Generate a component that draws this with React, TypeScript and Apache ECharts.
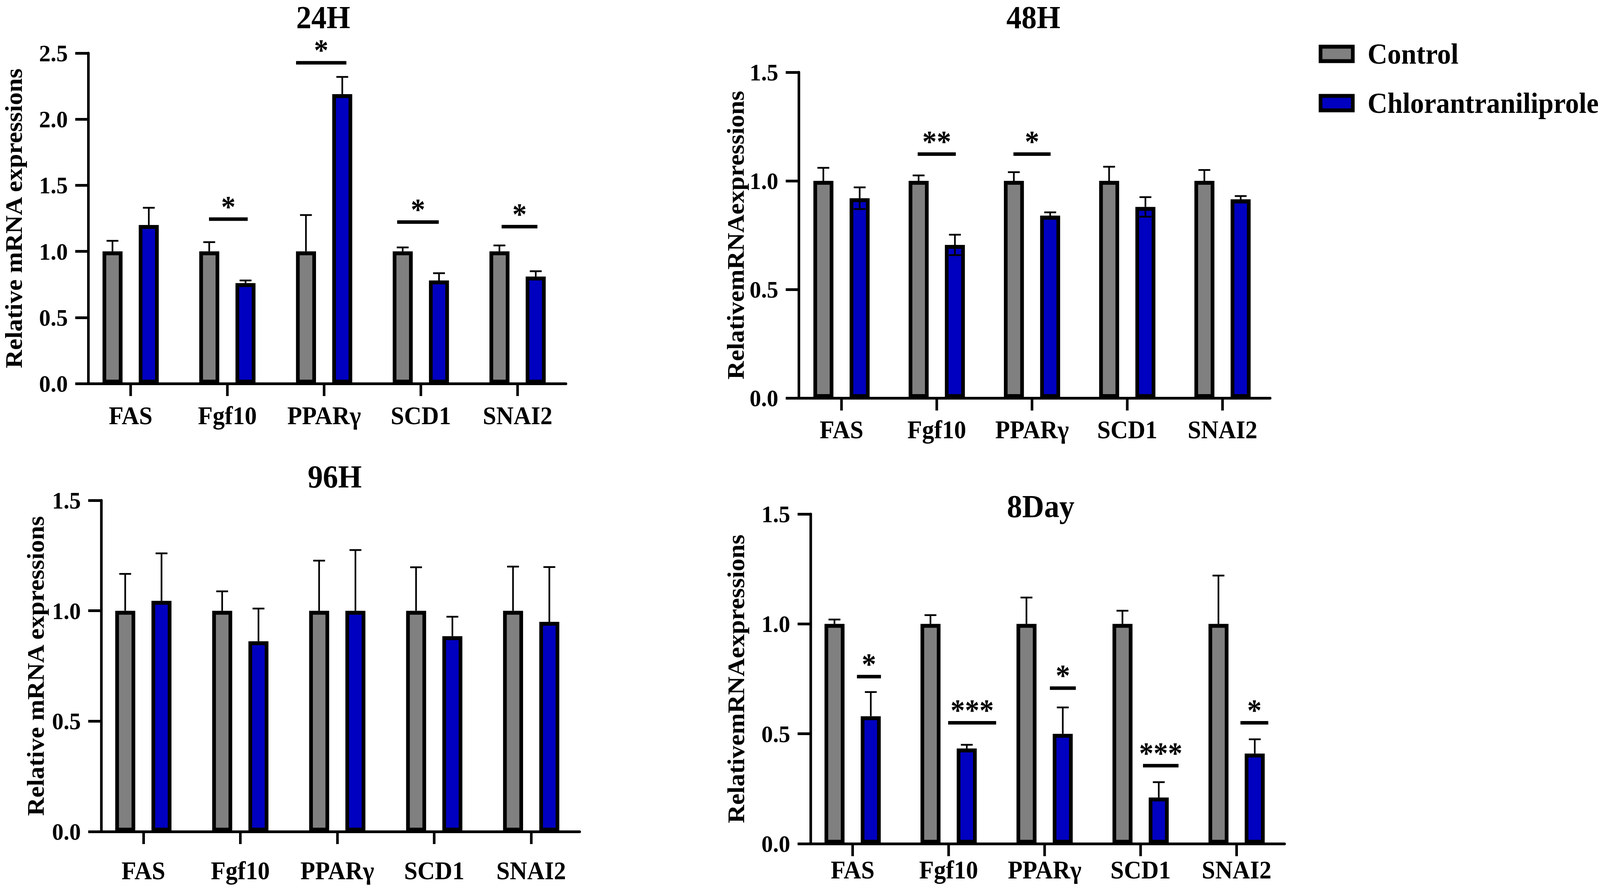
import React, { useEffect, useRef, useState } from 'react';
import * as echarts from 'echarts';

// ---------- data ----------
const categories = ['FAS', 'Fgf10', 'PPARγ', 'SCD1', 'SNAI2'];
const panelTitles = ['24H', '48H', '96H', '8Day'];
const yAxisNames = [
  'Relative mRNA expressions',
  'RelativemRNAexpressions',
  'Relative mRNA expressions',
  'RelativemRNAexpressions',
];
const yMaxes = [2.5, 1.5, 1.5, 1.5];
const seriesNames = ['Control', 'Chlorantraniliprole'];

// 24H
const control24 = [1.0, 1.0, 1.0, 1.0, 1.0];
const controlErr24 = [0.08, 0.07, 0.275, 0.03, 0.045];
const treat24 = [1.2, 0.76, 2.19, 0.78, 0.81];
const treatErr24 = [0.13, 0.02, 0.13, 0.055, 0.04];
// 48H
const control48 = [1.0, 1.0, 1.0, 1.0, 1.0];
const controlErr48 = [0.06, 0.025, 0.04, 0.065, 0.05];
const treat48 = [0.92, 0.705, 0.84, 0.88, 0.915];
const treatErr48 = [0.05, 0.047, 0.015, 0.045, 0.015];
// 96H
const control96 = [1.0, 1.0, 1.0, 1.0, 1.0];
const controlErr96 = [0.167, 0.088, 0.227, 0.197, 0.2];
const treat96 = [1.045, 0.862, 1.0, 0.885, 0.95];
const treatErr96 = [0.215, 0.148, 0.275, 0.088, 0.248];
// 8Day
const control8d = [1.0, 1.0, 1.0, 1.0, 1.0];
const controlErr8d = [0.02, 0.04, 0.12, 0.06, 0.22];
const treat8d = [0.58, 0.433, 0.5, 0.21, 0.41];
const treatErr8d = [0.11, 0.017, 0.12, 0.07, 0.065];

// significance marks: [category index, centre offset (bands), width (bands), line y value, label]
const sig24: [number, number, number, number, string][] = [
  [1, 0.01, 0.4, 1.244, '*'],
  [2, -0.03, 0.52, 2.427, '*'],
  [3, -0.03, 0.43, 1.222, '*'],
  [4, 0.02, 0.37, 1.187, '*'],
];
const sig48: [number, number, number, number, string][] = [
  [1, 0.0, 0.4, 1.123, '**'],
  [2, 0.0, 0.39, 1.123, '*'],
];
const sig96: [number, number, number, number, string][] = [];
const sig8d: [number, number, number, number, string][] = [
  [0, 0.17, 0.25, 0.76, '*'],
  [1, 0.245, 0.5, 0.55, '***'],
  [2, 0.19, 0.27, 0.708, '*'],
  [3, 0.21, 0.37, 0.355, '***'],
  [4, 0.185, 0.29, 0.55, '*'],
];

const controls = [control24, control48, control96, control8d];
const controlErrs = [controlErr24, controlErr48, controlErr96, controlErr8d];
const treats = [treat24, treat48, treat96, treat8d];
const treatErrs = [treatErr24, treatErr48, treatErr96, treatErr8d];
const sigs = [sig24, sig48, sig96, sig8d];
const showLowerTreatErr = [false, true, false, false];

// ---------- style / layout ----------
const W = 4317;
const H = 2276;
const FONT = '"Liberation Serif", "Times New Roman", Times, serif';
const GRAY = '#808080';
const BLUE = '#0000C0';
const BAR_W = 54;
const BAR_OFFSET = 49;

const layouts = [
  { left: 222, width: 1305, top: 136, height: 846, yOffset: -16, nameGap: 168, labelMargin: 50, tx: 872, ty: 44 },
  { left: 2142, width: 1285, top: 185, height: 834, yOffset: -13, nameGap: 137, labelMargin: 49, tx: 2788, ty: 44 },
  { left: 256, width: 1308, top: 1281, height: 848, yOffset: -17, nameGap: 144, labelMargin: 68, tx: 903, ty: 1220 },
  { left: 2171, width: 1295, top: 1316, height: 844, yOffset: -16, nameGap: 168, labelMargin: 35, tx: 2808, ty: 1296 },
];

function buildOption() {
  const grid: any[] = [];
  const xAxis: any[] = [];
  const yAxis: any[] = [];
  const series: any[] = [];
  const graphic: any[] = [];

  layouts.forEach((L, i) => {
    grid.push({ left: L.left, top: L.top, width: L.width, height: L.height, containLabel: false });
    xAxis.push({
      type: 'category',
      gridIndex: i,
      data: categories,
      axisLine: { show: true, lineStyle: { color: '#000', width: 7 } },
      axisTick: { show: true, alignWithLabel: true, interval: 0, length: 32, lineStyle: { color: '#000', width: 7 } },
      axisLabel: {
        interval: 0,
        hideOverlap: false,
        fontSize: 65,
        fontWeight: 'bold',
        fontFamily: FONT,
        color: '#000',
        margin: L.labelMargin,
      },
      splitLine: { show: false },
    });
    yAxis.push({
      type: 'value',
      gridIndex: i,
      min: 0,
      max: yMaxes[i],
      interval: 0.5,
      offset: L.yOffset,
      axisLine: { show: true, lineStyle: { color: '#000', width: 7 } },
      axisTick: { show: true, length: 35, lineStyle: { color: '#000', width: 7 } },
      axisLabel: {
        fontSize: 62,
        fontWeight: 'bold',
        fontFamily: FONT,
        color: '#000',
        margin: 55,
        formatter: (v: number) => v.toFixed(1),
      },
      splitLine: { show: false },
      name: yAxisNames[i],
      nameLocation: 'middle',
      nameGap: L.nameGap,
      nameTextStyle: { fontSize: 65, fontWeight: 'bold', fontFamily: FONT, color: '#000' },
    });

    series.push({
      name: seriesNames[0],
      type: 'bar',
      xAxisIndex: i,
      yAxisIndex: i,
      data: controls[i],
      barWidth: BAR_W,
      barGap: '81%',
      itemStyle: { color: GRAY, borderColor: '#000', borderWidth: 10 },
      z: 2,
    });
    series.push({
      name: seriesNames[1],
      type: 'bar',
      xAxisIndex: i,
      yAxisIndex: i,
      data: treats[i],
      barWidth: BAR_W,
      barGap: '81%',
      itemStyle: { color: BLUE, borderColor: '#000', borderWidth: 10 },
      z: 2,
    });

    const errData: number[][] = [];
    categories.forEach((_, c) => {
      errData.push([c, controls[i][c], controlErrs[i][c], 0, 0]);
      errData.push([c, treats[i][c], treatErrs[i][c], 1, showLowerTreatErr[i] ? 1 : 0]);
    });
    series.push({
      type: 'custom',
      xAxisIndex: i,
      yAxisIndex: i,
      z: 5,
      silent: true,
      encode: { x: 0, y: 1 },
      data: errData,
      renderItem: (params: any, api: any) => {
        const cat = api.value(0);
        const v = api.value(1);
        const e = api.value(2);
        const g = api.value(3);
        const low = api.value(4);
        const p0 = api.coord([cat, v]);
        const p1 = api.coord([cat, v + e]);
        const x = p0[0] + (g === 0 ? -BAR_OFFSET : BAR_OFFSET);
        const st = { stroke: '#000', lineWidth: 4.5 };
        const children: any[] = [
          { type: 'line', shape: { x1: x, y1: p0[1], x2: x, y2: p1[1] }, style: st },
          { type: 'line', shape: { x1: x - 16, y1: p1[1], x2: x + 16, y2: p1[1] }, style: st },
        ];
        if (low) {
          const p2 = api.coord([cat, v - e]);
          children.push({ type: 'line', shape: { x1: x, y1: p0[1], x2: x, y2: p2[1] }, style: st });
          children.push({ type: 'line', shape: { x1: x - 16, y1: p2[1], x2: x + 16, y2: p2[1] }, style: st });
        }
        return { type: 'group', children };
      },
    });

    const sig = sigs[i];
    if (sig.length) {
      series.push({
        type: 'custom',
        xAxisIndex: i,
        yAxisIndex: i,
        z: 6,
        silent: true,
        encode: { x: 0, y: 3 },
        data: sig.map((s) => [s[0], s[1], s[2], s[3]]),
        renderItem: (params: any, api: any) => {
          const cat = api.value(0);
          const off = api.value(1);
          const w = api.value(2);
          const y = api.value(3);
          const band = api.size([1, 0])[0];
          const c = api.coord([cat, y]);
          const cx = c[0] + off * band;
          const half = (w * band) / 2;
          return {
            type: 'group',
            children: [
              {
                type: 'line',
                shape: { x1: cx - half, y1: c[1], x2: cx + half, y2: c[1] },
                style: { stroke: '#000', lineWidth: 9 },
              },
              {
                type: 'text',
                x: cx,
                y: c[1] - 33,
                style: {
                  text: sig[params.dataIndex][4],
                  font: `bold 78px ${FONT}`,
                  fill: '#000',
                  align: 'center',
                  verticalAlign: 'middle',
                },
              },
            ],
          };
        },
      });
    }

    graphic.push({
      type: 'text',
      x: L.tx,
      y: L.ty,
      style: {
        text: panelTitles[i],
        font: `bold 82px ${FONT}`,
        fill: '#000',
        align: 'center',
        verticalAlign: 'middle',
      },
    });
  });

  return {
    animation: false,
    backgroundColor: '#fff',
    grid,
    xAxis,
    yAxis,
    series,
    graphic,
    legend: {
      orient: 'vertical',
      left: 3553,
      top: 96,
      itemWidth: 87,
      itemHeight: 37,
      itemGap: 52,
      icon: 'rect',
      data: seriesNames,
      itemStyle: { borderColor: '#000', borderWidth: 10 },
      textStyle: { fontSize: 74, fontWeight: 'bold', fontFamily: FONT, color: '#000', padding: [0, 0, 0, 35] },
      selectedMode: false,
    },
  };
}

export default function App() {
  const ref = useRef<HTMLDivElement>(null);
  const [scale, setScale] = useState<[number, number]>([1, 1]);
  useEffect(() => {
    const vw = window.innerWidth || document.documentElement.clientWidth || W;
    const vh = window.innerHeight || document.documentElement.clientHeight || H;
    setScale([Math.min(1, vw / W), Math.min(1, vh / H)]);
    document.body.style.margin = '0';
    document.body.style.overflow = 'hidden';
    if (!ref.current) return;
    const chart = echarts.init(ref.current, undefined, { renderer: 'svg', width: W, height: H });
    chart.setOption(buildOption() as any);
    return () => chart.dispose();
  }, []);
  return (
    <div
      style={{
        position: 'absolute',
        left: 0,
        top: 0,
        width: W,
        height: H,
        transform: `scale(${scale[0]}, ${scale[1]})`,
        transformOrigin: '0 0',
        background: '#fff',
      }}
    >
      <div ref={ref} style={{ width: W, height: H }} />
    </div>
  );
}
